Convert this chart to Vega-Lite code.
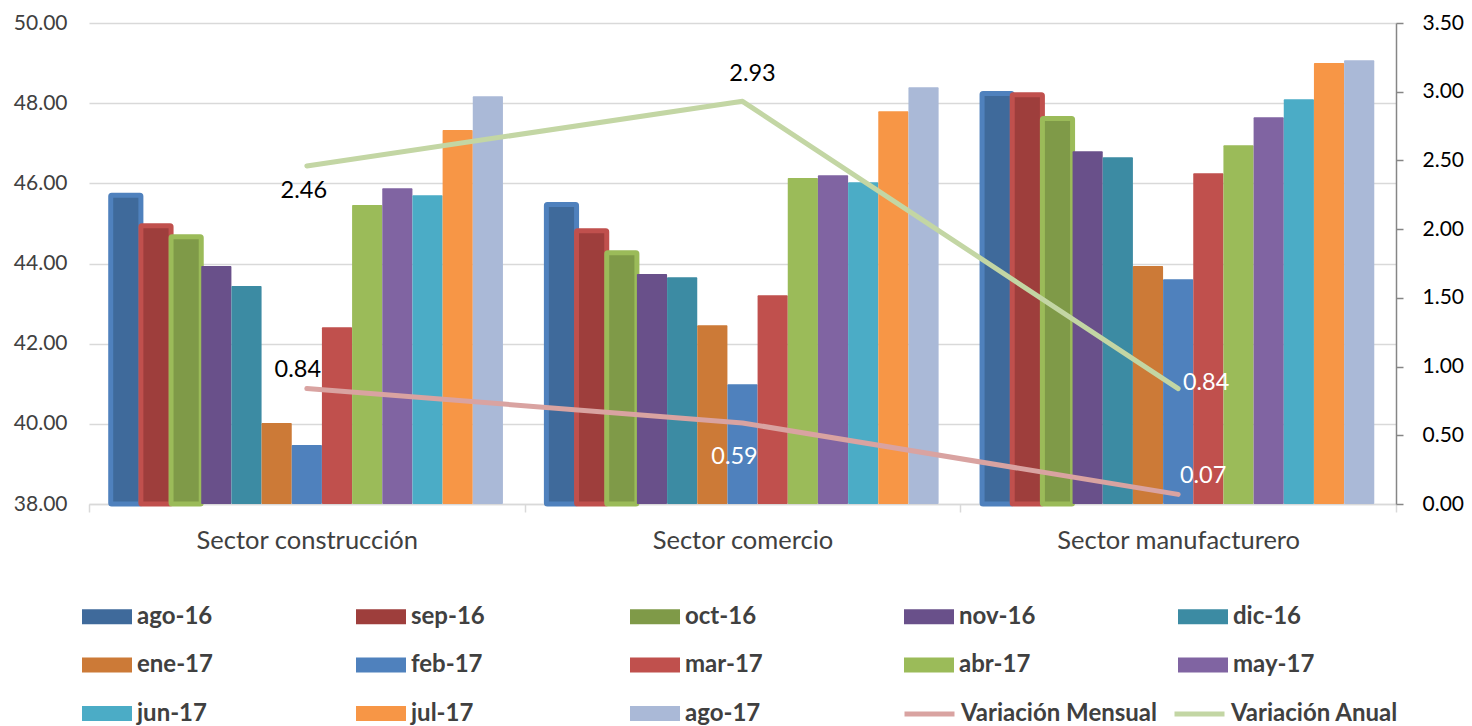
{
  "$schema": "https://vega.github.io/schema/vega-lite/v6.json",
  "width": 1307,
  "height": 481,
  "autosize": {"type": "none"},
  "padding": {"left": 89, "top": 23, "right": 76, "bottom": 222},
  "config": {"view": {"stroke": null}, "font": "Lato"},
  "datasets": {
    "barras": [
      {"sector": "Sector construcción", "serie": "ago-16", "v": 45.70},
      {"sector": "Sector construcción", "serie": "sep-16", "v": 44.94},
      {"sector": "Sector construcción", "serie": "oct-16", "v": 44.67},
      {"sector": "Sector construcción", "serie": "nov-16", "v": 43.94},
      {"sector": "Sector construcción", "serie": "dic-16", "v": 43.44},
      {"sector": "Sector construcción", "serie": "ene-17", "v": 40.02},
      {"sector": "Sector construcción", "serie": "feb-17", "v": 39.47},
      {"sector": "Sector construcción", "serie": "mar-17", "v": 42.41},
      {"sector": "Sector construcción", "serie": "abr-17", "v": 45.46},
      {"sector": "Sector construcción", "serie": "may-17", "v": 45.88},
      {"sector": "Sector construcción", "serie": "jun-17", "v": 45.70},
      {"sector": "Sector construcción", "serie": "jul-17", "v": 47.33},
      {"sector": "Sector construcción", "serie": "ago-17", "v": 48.17},
      {"sector": "Sector comercio", "serie": "ago-16", "v": 45.47},
      {"sector": "Sector comercio", "serie": "sep-16", "v": 44.82},
      {"sector": "Sector comercio", "serie": "oct-16", "v": 44.27},
      {"sector": "Sector comercio", "serie": "nov-16", "v": 43.74},
      {"sector": "Sector comercio", "serie": "dic-16", "v": 43.66},
      {"sector": "Sector comercio", "serie": "ene-17", "v": 42.46},
      {"sector": "Sector comercio", "serie": "feb-17", "v": 40.99},
      {"sector": "Sector comercio", "serie": "mar-17", "v": 43.21},
      {"sector": "Sector comercio", "serie": "abr-17", "v": 46.13},
      {"sector": "Sector comercio", "serie": "may-17", "v": 46.20},
      {"sector": "Sector comercio", "serie": "jun-17", "v": 46.03},
      {"sector": "Sector comercio", "serie": "jul-17", "v": 47.80},
      {"sector": "Sector comercio", "serie": "ago-17", "v": 48.40},
      {"sector": "Sector manufacturero", "serie": "ago-16", "v": 48.24},
      {"sector": "Sector manufacturero", "serie": "sep-16", "v": 48.21},
      {"sector": "Sector manufacturero", "serie": "oct-16", "v": 47.62},
      {"sector": "Sector manufacturero", "serie": "nov-16", "v": 46.80},
      {"sector": "Sector manufacturero", "serie": "dic-16", "v": 46.65},
      {"sector": "Sector manufacturero", "serie": "ene-17", "v": 43.94},
      {"sector": "Sector manufacturero", "serie": "feb-17", "v": 43.61},
      {"sector": "Sector manufacturero", "serie": "mar-17", "v": 46.25},
      {"sector": "Sector manufacturero", "serie": "abr-17", "v": 46.95},
      {"sector": "Sector manufacturero", "serie": "may-17", "v": 47.65},
      {"sector": "Sector manufacturero", "serie": "jun-17", "v": 48.10},
      {"sector": "Sector manufacturero", "serie": "jul-17", "v": 49.00},
      {"sector": "Sector manufacturero", "serie": "ago-17", "v": 49.07}
    ],
    "lineas": [
      {"sector": "Sector construcción", "serie": "Variación Mensual", "v": 0.84},
      {"sector": "Sector comercio", "serie": "Variación Mensual", "v": 0.59},
      {"sector": "Sector manufacturero", "serie": "Variación Mensual", "v": 0.07},
      {"sector": "Sector construcción", "serie": "Variación Anual", "v": 2.46},
      {"sector": "Sector comercio", "serie": "Variación Anual", "v": 2.93},
      {"sector": "Sector manufacturero", "serie": "Variación Anual", "v": 0.84}
    ]
  },
  "layer": [
    {
      "data": {"name": "barras"},
      "mark": {"type": "bar", "strokeJoin": "round", "cornerRadius": 1},
      "encoding": {
        "x": {
          "field": "sector", "type": "nominal",
          "sort": ["Sector construcción", "Sector comercio", "Sector manufacturero"],
          "scale": {"domain": ["Sector construcción", "Sector comercio", "Sector manufacturero"], "paddingInner": 0, "paddingOuter": 0},
          "axis": {
            "title": null, "labelAngle": 0, "labelFont": "Lato", "labelFontSize": 25.5, "labelColor": "#404040", "labelLimit": 500,
            "labelPadding": 16, "domainColor": "#D9D9D9", "domainWidth": 1.5,
            "ticks": true, "tickBand": "extent", "tickColor": "#D9D9D9", "tickWidth": 1.5, "tickSize": 8, "grid": false
          }
        },
        "xOffset": {
          "field": "serie", "type": "nominal",
          "sort": ["ago-16", "sep-16", "oct-16", "nov-16", "dic-16", "ene-17", "feb-17", "mar-17", "abr-17", "may-17", "jun-17", "jul-17", "ago-17"],
          "scale": {"domain": ["ago-16", "sep-16", "oct-16", "nov-16", "dic-16", "ene-17", "feb-17", "mar-17", "abr-17", "may-17", "jun-17", "jul-17", "ago-17"], "paddingInner": 0, "paddingOuter": 0.72}
        },
        "y": {
          "field": "v", "type": "quantitative",
          "scale": {"domain": [38, 50], "zero": false, "nice": false},
          "axis": {
            "orient": "left", "title": null, "values": [38, 40, 42, 44, 46, 48, 50], "format": ".2f",
            "labelFont": "Lato", "labelFontSize": 21, "labelColor": "#404040", "labelPadding": 22,
            "domain": false, "ticks": false, "grid": true, "gridColor": "#D9D9D9", "gridWidth": 1.5
          }
        },
        "y2": {"datum": 38},
        "color": {
          "field": "serie", "type": "nominal",
          "sort": ["ago-16", "sep-16", "oct-16", "nov-16", "dic-16", "ene-17", "feb-17", "mar-17", "abr-17", "may-17", "jun-17", "jul-17", "ago-17"],
          "scale": {
            "domain": ["ago-16", "sep-16", "oct-16", "nov-16", "dic-16", "ene-17", "feb-17", "mar-17", "abr-17", "may-17", "jun-17", "jul-17", "ago-17"],
            "range": ["#3F6A9B", "#9E3E3C", "#7F9A48", "#69508A", "#3C8BA3", "#CC7A37", "#4F81BD", "#C0504D", "#9BBB59", "#8064A2", "#4BACC6", "#F79646", "#AAB9D7"]
          },
          "legend": {
            "title": null, "orient": "none", "legendX": -8, "legendY": 580, "direction": "horizontal",
            "columns": 5, "gridAlign": "all", "columnPadding": 134, "rowPadding": 22.5,
            "symbolSize": 625, "symbolType": "M-1,-0.6H3V0.6H-1Z",
            "labelFont": "Lato", "labelFontSize": 24, "labelFontWeight": "bold", "labelColor": "#404040", "labelOffset": 29, "labelLimit": 400
          }
        },
        "stroke": {
          "condition": [
            {"test": "datum.serie === 'ago-16'", "value": "#4F81BD"},
            {"test": "datum.serie === 'sep-16'", "value": "#C0504D"},
            {"test": "datum.serie === 'oct-16'", "value": "#9BBB59"}
          ],
          "value": "transparent"
        },
        "strokeWidth": {"value": 5}
      }
    },
    {
      "data": {"name": "lineas"},
      "encoding": {
        "x": {"field": "sector", "type": "nominal", "sort": ["Sector construcción", "Sector comercio", "Sector manufacturero"]},
        "y": {
          "field": "v", "type": "quantitative",
          "scale": {"domain": [0, 3.5], "nice": false},
          "axis": {
            "orient": "right", "title": null, "values": [0, 0.5, 1, 1.5, 2, 2.5, 3, 3.5], "format": ".2f",
            "labelFont": "Lato", "labelFontSize": 21, "labelColor": "#000000", "labelPadding": 19,
            "domain": true, "domainColor": "#868686", "domainWidth": 1.5,
            "ticks": true, "tickColor": "#868686", "tickSize": 7, "tickWidth": 1.5, "grid": false
          }
        }
      },
      "layer": [
        {
          "mark": {"type": "line", "strokeWidth": 5, "strokeCap": "round", "strokeJoin": "round"},
          "encoding": {
            "stroke": {
              "field": "serie", "type": "nominal",
              "sort": ["Variación Mensual", "Variación Anual"],
              "scale": {"domain": ["Variación Mensual", "Variación Anual"], "range": ["#D9A3A1", "#C3D6A4"]},
              "legend": {
                "title": null, "orient": "none", "legendX": 813, "legendY": 676, "direction": "horizontal",
                "columns": 2, "gridAlign": "all", "columnPadding": 7,
                "symbolSize": 625, "symbolType": "M-1,0H3", "symbolStrokeWidth": 5,
                "labelFont": "Lato", "labelFontSize": 24, "labelFontWeight": "bold", "labelColor": "#404040", "labelOffset": 29, "labelLimit": 400
              }
            }
          }
        },
        {
          "transform": [{"filter": "datum.sector === 'Sector construcción' && datum.serie === 'Variación Anual'"}],
          "mark": {"type": "text", "font": "Lato", "fontSize": 23.5, "color": "#000000", "dx": -3, "dy": 25},
          "encoding": {"text": {"field": "v", "type": "quantitative", "format": ".2f"}}
        },
        {
          "transform": [{"filter": "datum.sector === 'Sector construcción' && datum.serie === 'Variación Mensual'"}],
          "mark": {"type": "text", "font": "Lato", "fontSize": 23.5, "color": "#000000", "dx": -9, "dy": -19},
          "encoding": {"text": {"field": "v", "type": "quantitative", "format": ".2f"}}
        },
        {
          "transform": [{"filter": "datum.sector === 'Sector comercio' && datum.serie === 'Variación Anual'"}],
          "mark": {"type": "text", "font": "Lato", "fontSize": 23.5, "color": "#000000", "dx": 10, "dy": -27},
          "encoding": {"text": {"field": "v", "type": "quantitative", "format": ".2f"}}
        },
        {
          "transform": [{"filter": "datum.sector === 'Sector comercio' && datum.serie === 'Variación Mensual'"}],
          "mark": {"type": "text", "font": "Lato", "fontSize": 23.5, "color": "#FFFFFF", "dx": -8, "dy": 34},
          "encoding": {"text": {"field": "v", "type": "quantitative", "format": ".2f"}}
        },
        {
          "transform": [{"filter": "datum.sector === 'Sector manufacturero' && datum.serie === 'Variación Anual'"}],
          "mark": {"type": "text", "font": "Lato", "fontSize": 23.5, "color": "#FFFFFF", "dx": 28, "dy": -6},
          "encoding": {"text": {"field": "v", "type": "quantitative", "format": ".2f"}}
        },
        {
          "transform": [{"filter": "datum.sector === 'Sector manufacturero' && datum.serie === 'Variación Mensual'"}],
          "mark": {"type": "text", "font": "Lato", "fontSize": 23.5, "color": "#FFFFFF", "dx": 25, "dy": -18},
          "encoding": {"text": {"field": "v", "type": "quantitative", "format": ".2f"}}
        }
      ]
    }
  ],
  "resolve": {"scale": {"y": "independent"}}
}
